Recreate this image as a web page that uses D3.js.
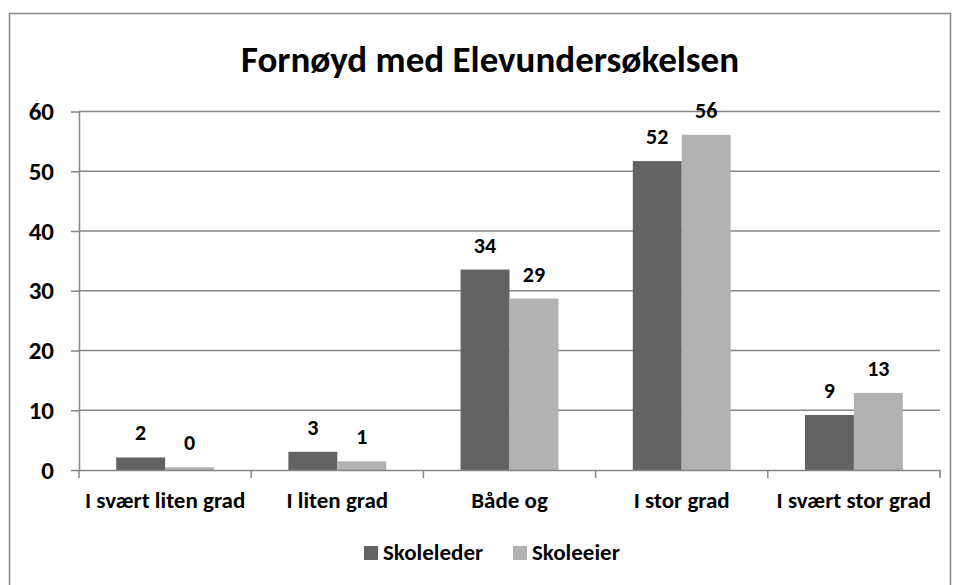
<!DOCTYPE html>
<html>
<head>
<meta charset="utf-8">
<script src="https://cdn.jsdelivr.net/npm/d3@7"></script>
<style>
  body { margin: 0; background: #fff; }
  text { font-family: Calibri, Carlito, Lato, sans-serif; font-weight: bold; fill: #000; }
</style>
</head>
<body>
<div id="app"></div>
<script>
// data
const categories = ['I svært liten grad', 'I liten grad', 'Både og', 'I stor grad', 'I svært stor grad'];
const seriesNames = ['Skoleleder', 'Skoleeier'];
const skoleleder = [2.1, 3.05, 33.55, 51.7, 9.2];
const skoleeier = [0.45, 1.45, 28.7, 56.1, 12.9];
const labelsLeder = ['2', '3', '34', '52', '9'];
const labelsEier = ['0', '1', '29', '56', '13'];
const yTicks = [0, 10, 20, 30, 40, 50, 60];

const colors = ['#636363', '#b2b2b2'];
const width = 956, height = 585;
const plot = { left: 79, right: 940, top: 111.5, bottom: 470 };

const svg = d3.select('#app').append('svg')
  .attr('width', width)
  .attr('height', height);

// outer chart border
svg.append('rect')
  .attr('x', 9.5).attr('y', 13.5)
  .attr('width', 941).attr('height', 600)
  .attr('fill', 'none')
  .attr('stroke', '#888')
  .attr('stroke-width', 1.5);

svg.append('text')
  .attr('x', 490).attr('y', 72)
  .attr('text-anchor', 'middle')
  .style('font-size', '37px')
  .text('Fornøyd med Elevundersøkelsen');

const x = d3.scaleBand().domain(categories).range([plot.left, plot.right]).padding(0);
const xInner = d3.scaleBand().domain(seriesNames).range([0, x.bandwidth()]).paddingOuter(0.76).paddingInner(0);
const y = d3.scaleLinear().domain([0, 60]).range([plot.bottom, plot.top]);

// gridlines
svg.append('g')
  .selectAll('line')
  .data(yTicks.filter(d => d > 0))
  .join('line')
  .attr('x1', plot.left).attr('x2', plot.right)
  .attr('y1', d => y(d)).attr('y2', d => y(d))
  .attr('stroke', '#868686')
  .attr('stroke-width', 1.5);

// y axis
const yAxis = svg.append('g')
  .attr('transform', `translate(${plot.left},0)`)
  .call(d3.axisLeft(y).tickValues(yTicks).tickSize(8).tickPadding(17).tickSizeOuter(0));
yAxis.select('.domain').attr('stroke', '#868686').attr('stroke-width', 1.5);
yAxis.selectAll('.tick line').attr('stroke', '#868686').attr('stroke-width', 1.5);
yAxis.selectAll('.tick text').style('font-size', '25px').attr('fill', '#000');

// bars
const series = [skoleleder, skoleeier];
const labels = [labelsLeder, labelsEier];
const rows = categories.map((c, i) => seriesNames.map((s, j) => ({
  cat: c, name: s, value: series[j][i], label: labels[j][i], color: colors[j]
})));

const groups = svg.append('g')
  .selectAll('g')
  .data(rows)
  .join('g')
  .attr('transform', (d, i) => `translate(${x(categories[i])},0)`);

groups.selectAll('rect')
  .data(d => d)
  .join('rect')
  .attr('x', d => xInner(d.name))
  .attr('width', xInner.bandwidth())
  .attr('y', d => y(d.value))
  .attr('height', d => y(0) - y(d.value))
  .attr('fill', d => d.color);

groups.selectAll('text')
  .data(d => d)
  .join('text')
  .attr('x', d => xInner(d.name) + xInner.bandwidth() / 2)
  .attr('y', d => y(d.value) - 17)
  .attr('text-anchor', 'middle')
  .style('font-size', '22px')
  .text(d => d.label);

// x axis
const xAxis = svg.append('g')
  .attr('transform', `translate(0,${plot.bottom})`)
  .call(d3.axisBottom(x).tickSize(0).tickPadding(22));
xAxis.select('.domain').attr('stroke', '#868686').attr('stroke-width', 1.5);
xAxis.selectAll('.tick text').style('font-size', '23px').attr('fill', '#000');
xAxis.append('g')
  .selectAll('line')
  .data([plot.left].concat(categories.map(c => x(c) + x.bandwidth())))
  .join('line')
  .attr('x1', d => d).attr('x2', d => d)
  .attr('y1', 0).attr('y2', 8)
  .attr('stroke', '#868686')
  .attr('stroke-width', 1.5);

// legend
const legend = svg.append('g').attr('transform', 'translate(364,560)');
const legendX = [0, 149];
const item = legend.selectAll('g')
  .data(seriesNames)
  .join('g')
  .attr('transform', (d, i) => `translate(${legendX[i]},0)`);
item.append('rect')
  .attr('x', 0).attr('y', -14)
  .attr('width', 14).attr('height', 14)
  .attr('fill', (d, i) => colors[i]);
item.append('text')
  .attr('x', 19).attr('y', 0)
  .style('font-size', '23px')
  .text(d => d);
</script>
</body>
</html>
